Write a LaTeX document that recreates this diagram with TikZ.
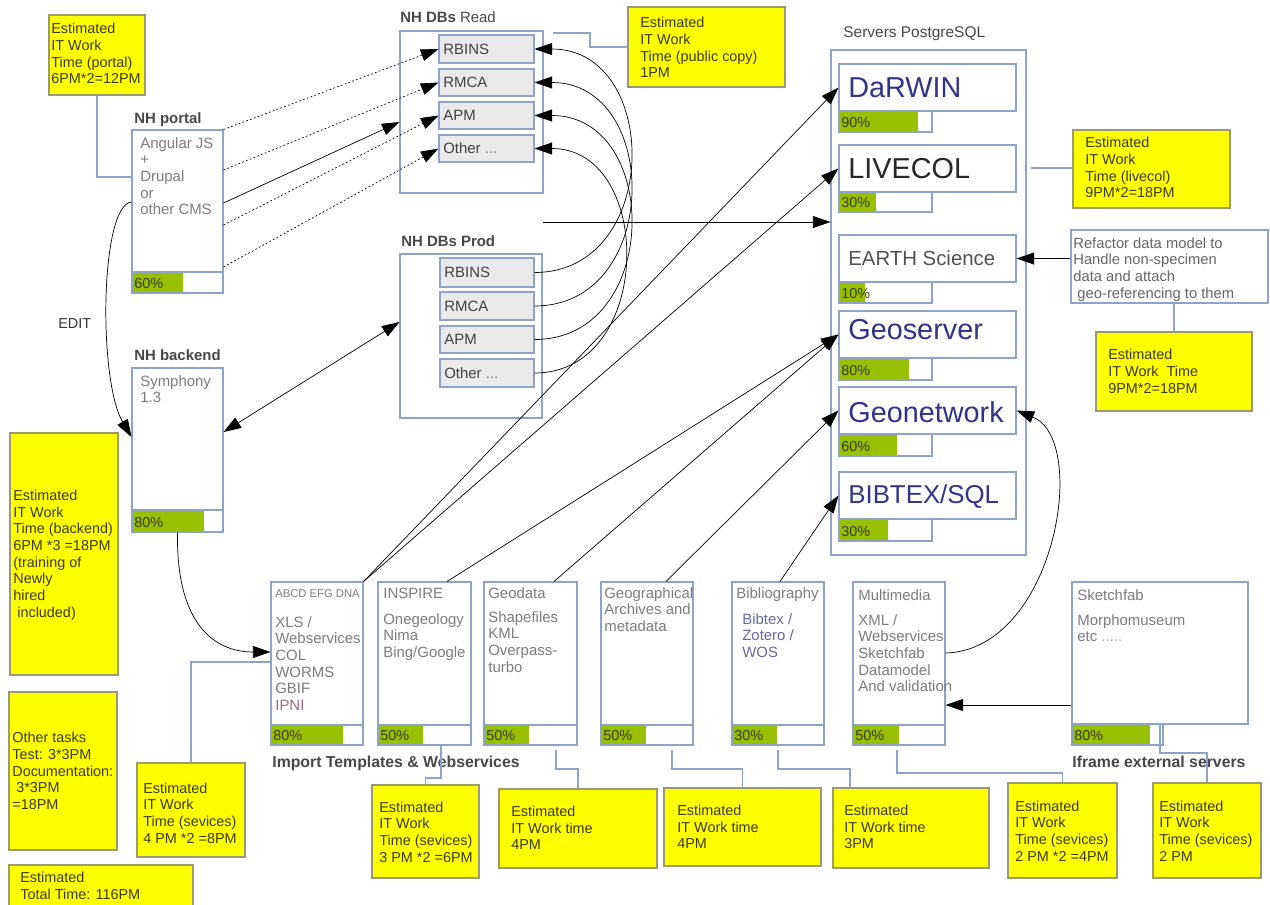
\documentclass[tikz,border=0pt]{standalone}
\usepackage{fontspec}
\setmainfont{Liberation Sans}
\usetikzlibrary{arrows.meta,fit}
\definecolor{bord}{HTML}{8FA3C8}
\definecolor{ybord}{HTML}{9A9A70}
\definecolor{ylw}{HTML}{FFFF00}
\definecolor{grn}{HTML}{99C000}
\definecolor{gtxt}{HTML}{7C7C7C}
\definecolor{btxt}{HTML}{333388}
\definecolor{dtxt}{HTML}{3A3A10}
\definecolor{dbfill}{HTML}{EAEAEA}
\definecolor{bibc}{HTML}{6666AA}
\definecolor{ipnic}{HTML}{9A6A7A}
\newcommand\pbar[7]{%
  \node[box, fit={(#2,#3) (#4,#5)}] (#1) {};
  \fill[grn] (#2,#3) rectangle (#6,#5);
  \draw[draw=bord, line width=0.6pt] (#2,#3) rectangle (#4,#5);
  \node[pct] (#1t) at ({#2+2},{#5-4.5}) {#7};}
\begin{document}
\begin{tikzpicture}[x=0.02cm, y=-0.02cm,
  box/.style={draw=bord, line width=0.6pt, fill=white, inner sep=0pt},
  ybox/.style={draw=ybord, line width=0.6pt, fill=ylw, inner sep=0pt},
  dbbox/.style={draw=bord, line width=0.6pt, fill=dbfill, inner sep=0pt},
  conn/.style={draw=bord, line width=0.6pt},
  arr/.style={draw=black, line width=0.4pt, -{Triangle[length=10pt,width=6.8pt]}},
  darr/.style={draw=black, line width=0.4pt, {Triangle[length=10pt,width=6.8pt]}-{Triangle[length=10pt,width=6.8pt]}},
  dotarr/.style={arr, dash pattern=on 1pt off 1.3pt},
  ytxt/.style={font=\fontsize{8.2}{9.5}\selectfont, text=dtxt, align=left, inner sep=0pt},
  gtx/.style={font=\fontsize{8.5}{9.5}\selectfont, text=gtxt, align=left, inner sep=0pt, anchor=north west},
  lbl/.style={font=\bfseries\fontsize{8.5}{10}\selectfont, text=black!72, inner sep=0pt, anchor=base west},
  pct/.style={font=\fontsize{8.2}{9}\selectfont, text=dtxt, inner sep=0pt, anchor=base west},
  srv/.style={font=\fontsize{16.4}{18}\selectfont, text=btxt, inner sep=0pt, anchor=base west},
  dbt/.style={font=\fontsize{8.5}{10}\selectfont, text=black!75, inner sep=0pt, anchor=west}]
\useasboundingbox (0,0) rectangle (1270,904);
\fill[white] (0,0) rectangle (1270,904);

% ---------- portal ----------
\node[ybox, fit={(49,15) (145,95)}] (portalY) {};
\node[ytxt, anchor=north west] (portalYt) at (51,23) {Estimated\\IT Work\\Time (portal)\\6PM*2=12PM};
\node[lbl] (portalL) at (134,123) {NH portal};
\node[box, fit={(132,130) (223,293)}] (portal) {};
\node[gtx] (portalT) at (140,137) {Angular JS\\+\\Drupal\\or\\other CMS};
\pbar{portalB}{132}{272}{223}{293}{183}{60\%}

% ---------- NH DBs Read ----------
\node[lbl] (readL) at (400,22) {NH DBs \mdseries Read};
\node[box, fit={(400,31) (543,193)}] (read) {};
\node[dbbox, fit={(439,35) (534,63)}] (rR1) {};
\node[dbbox, fit={(439,69) (534,96)}] (rR2) {};
\node[dbbox, fit={(439,102) (534,129)}] (rR3) {};
\node[dbbox, fit={(439,135) (534,162)}] (rR4) {};
\node[dbt] (rR1t) at (443,49) {RBINS};
\node[dbt] (rR2t) at (443,82.5) {RMCA};
\node[dbt] (rR3t) at (443,115.5) {APM};
\node[dbt] (rR4t) at (443,148.5) {Other \textcolor{gtxt}{...}};

\node[ybox, fit={(628,7) (785,87)}] (pubY) {};
\node[ytxt, anchor=north west] (pubYt) at (640,17) {Estimated\\IT Work\\Time (public copy)\\1PM};

% ---------- NH DBs Prod ----------
\node[lbl] (prodL) at (401,246) {NH DBs Prod};
\node[box, fit={(400,254) (542,418)}] (prod) {};
\node[dbbox, fit={(440,258) (534,287)}] (pR1) {};
\node[dbbox, fit={(440,292) (534,320)}] (pR2) {};
\node[dbbox, fit={(440,326) (534,353)}] (pR3) {};
\node[dbbox, fit={(440,359) (534,387)}] (pR4) {};
\node[dbt] (pR1t) at (444,272.5) {RBINS};
\node[dbt] (pR2t) at (444,306) {RMCA};
\node[dbt] (pR3t) at (444,339.5) {APM};
\node[dbt] (pR4t) at (444,373) {Other \textcolor{gtxt}{...}};

% ---------- backend ----------
\node[font=\fontsize{8.2}{9}\selectfont, text=black!80, inner sep=0pt, anchor=base west] (editL) at (58,328) {EDIT};
\node[lbl] (backL) at (134,360) {NH backend};
\node[box, fit={(132,368) (223,532)}] (backend) {};
\node[gtx] (backT) at (140,375) {Symphony\\1.3};
\pbar{backB}{132}{510}{223}{532}{204}{80\%}

\node[ybox, fit={(10,433) (118,675)}] (backY) {};
\node[ytxt, anchor=west] (backYt) at (13,555) {Estimated\\IT Work\\Time (backend)\\6PM *3 =18PM\\(training of\\Newly\\hired\\\ included)};
\node[ybox, fit={(9,692) (117,850)}] (otherY) {};
\node[ytxt, anchor=west] (otherYt) at (12,771) {Other tasks\\Test: 3*3PM\\Documentation:\\\ 3*3PM\\=18PM};
\node[ybox, fit={(137,763) (245,857)}] (abcdY) {};
\node[ytxt, anchor=west] (abcdYt) at (143,813) {Estimated\\IT Work\\Time (sevices)\\4 PM *2 =8PM};
\node[ybox, fit={(9,865) (193,925)}] (totalY) {};
\node[ytxt, anchor=north west] (totalYt) at (20,872) {Estimated\\Total Time: 116PM};

% ---------- servers ----------
\node[font=\fontsize{8.8}{10}\selectfont, text=black!72, inner sep=0pt, anchor=base west] (servL) at (843,37) {Servers PostgreSQL};
\node[box, fit={(831,50) (1026,555)}] (servers) {};
\node[box, fit={(839,64) (1016,111)}] (darwin) {};
\node[srv] (darwint) at (848,97) {DaRWIN};
\pbar{darwinB}{839}{111}{932}{132}{918}{90\%}
\node[box, fit={(839,145) (1016,192)}] (livecol) {};
\node[srv, text=black!85] (livecolt) at (848,178) {LIVECOL};
\pbar{livecolB}{839}{192}{932}{212}{876}{30\%}
\node[box, fit={(839,235) (1016,282)}] (earth) {};
\node[srv, text=black!68, font=\fontsize{11.6}{13}\selectfont] (eartht) at (848,265) {EARTH Science};
\pbar{earthB}{839}{282}{932}{303}{865}{10\%}
\node[box, fit={(839,311) (1016,358)}] (geoserver) {};
\node[srv] (geoservert) at (848,339) {Geoserver};
\pbar{geoserverB}{839}{358}{932}{380}{909}{80\%}
\node[box, fit={(839,387) (1016,434)}] (geonet) {};
\node[srv] (geonett) at (848,422) {Geonetwork};
\pbar{geonetB}{839}{434}{932}{456}{897}{60\%}
\node[box, fit={(839,472) (1016,519)}] (bibsql) {};
\node[srv, font=\fontsize{14.7}{16}\selectfont] (bibsqlt) at (848,503) {BIBTEX/SQL};
\pbar{bibsqlB}{839}{519}{932}{541}{888}{30\%}

\node[ybox, fit={(1073,130) (1230,208)}] (livY) {};
\node[ytxt, anchor=north west] (livYt) at (1085,137) {Estimated\\IT Work\\Time (livecol)\\9PM*2=18PM};
\node[box, fit={(1071,230) (1268,303)}] (refactor) {};
\node[gtx, font=\fontsize{8.4}{9.5}\selectfont, text=black!60] (refactort) at (1073,237) {Refactor data model to\\Handle non-specimen\\data and attach\\\ geo-referencing to them};
\node[ybox, fit={(1096,332) (1252,411)}] (earthY) {};
\node[ytxt, anchor=north west] (earthYt) at (1108,349) {Estimated\\IT Work\ \ Time\\9PM*2=18PM};

% ---------- bottom boxes ----------
\node[box, fit={(271,582) (363,745)}] (abcd) {};
\node[gtx, font=\fontsize{6.4}{8}\selectfont] (abcdT1) at (275,589) {ABCD EFG DNA};
\node[gtx] (abcdT2) at (275,616) {XLS /\\Webservices\\COL\\WORMS\\GBIF\\\textcolor{ipnic}{IPNI}};
\pbar{abcdB}{271}{725}{363}{745}{343}{80\%}

\node[box, fit={(378,582) (471,745)}] (inspire) {};
\node[gtx] (inspireT1) at (383,588) {INSPIRE};
\node[gtx] (inspireT2) at (383,613) {Onegeology\\Nima\\Bing/Google};
\pbar{inspireB}{378}{725}{471}{745}{423}{50\%}

\node[box, fit={(484,582) (577,745)}] (geodata) {};
\node[gtx] (geodataT1) at (488,587) {Geodata};
\node[gtx] (geodataT2) at (488,611) {Shapefiles\\KML\\Overpass-\\turbo};
\pbar{geodataB}{484}{725}{577}{745}{529}{50\%}

\node[box, fit={(601,582) (693,745)}] (geog) {};
\node[gtx] (geogT) at (604,587) {Geographical\\Archives and\\metadata};
\pbar{geogB}{601}{725}{693}{745}{646}{50\%}

\node[box, fit={(732,582) (824,745)}] (biblio) {};
\node[gtx] (biblioT1) at (736,587) {Bibliography};
\node[gtx, text=bibc] (biblioT2) at (742,613) {Bibtex /\\Zotero /\\WOS};
\pbar{biblioB}{732}{725}{824}{745}{777}{30\%}

\node[box, fit={(853,582) (945,745)}] (mm) {};
\node[gtx] (mmT1) at (858,589) {Multimedia};
\node[gtx] (mmT2) at (858,614) {XML /\\Webservices\\Sketchfab\\Datamodel\\And validation};
\pbar{mmB}{853}{725}{945}{745}{899}{50\%}

\node[box, fit={(1072,582) (1248,724)}] (sketch) {};
\node[gtx] (sketchT1) at (1077,589) {Sketchfab};
\node[gtx] (sketchT2) at (1077,614) {Morphomuseum\\etc \textcolor{gtxt!60}{.....}};
\pbar{sketchB}{1072}{724}{1163}{745}{1150}{80\%}

\node[lbl, font=\bfseries\fontsize{9}{10}\selectfont] (importL) at (272,767) {Import Templates \& Webservices};
\node[lbl, font=\bfseries\fontsize{9}{10}\selectfont] (iframeL) at (1072,767) {Iframe external servers};

\node[ybox, fit={(372,785) (479,878)}] (inspY) {};
\node[ytxt, anchor=west] (inspYt) at (379,832) {Estimated\\IT Work\\Time (sevices)\\3 PM *2 =6PM};
\node[ybox, fit={(499,789) (657,868)}] (gdY) {};
\node[ytxt, anchor=west] (gdYt) at (511,828) {Estimated\\IT Work time\\4PM};
\node[ybox, fit={(664,788) (821,866)}] (ggY) {};
\node[ytxt, anchor=west] (ggYt) at (677,827) {Estimated\\IT Work time\\4PM};
\node[ybox, fit={(833,788) (989,868)}] (bbY) {};
\node[ytxt, anchor=west] (bbYt) at (844,827) {Estimated\\IT Work time\\3PM};
\node[ybox, fit={(1008,783) (1117,878)}] (mmY) {};
\node[ytxt, anchor=west] (mmYt) at (1015,831) {Estimated\\IT Work\\Time (sevices)\\2 PM *2 =4PM};
\node[ybox, fit={(1153,783) (1261,878)}] (skY) {};
\node[ytxt, anchor=west] (skYt) at (1159,831) {Estimated\\IT Work\\Time (sevices)\\2 PM};

% ---------- yellow-note connectors ----------
\draw[conn] (portalY.south) |- (portal.west |- 0,177);
\coordinate (pubA) at (553,33);
\draw[conn] (pubA) -- (590,33) |- (pubY.west);
\coordinate (livA) at (1031,168);
\draw[conn] (livA) -- (livY.west |- livA);
\draw[conn] (refactor.south -| earthY.north) -- (earthY.north);
\draw[conn] (abcdY.north) |- (abcd.west |- 0,662);
\draw[conn] (inspire.south -| 441,0) -- (441,778) -- (inspY.north |- 0,778) -- (inspY.north);
\coordinate (gdA) at (556,750);
\draw[conn] (gdA) |- (gdY.north |- 0,769) -- (gdY.north);
\coordinate (ggA) at (672,750);
\draw[conn] (ggA) |- (ggY.north |- 0,769) -- (ggY.north);
\coordinate (bbA) at (778,750);
\draw[conn] (bbA) |- (850,769) -- (bbY.north -| 850,0);
\coordinate (mmA) at (897,750);
\draw[conn] (mmA) |- (mmY.north |- 0,773) -- (mmY.north);
\draw[conn] (sketch.south -| 1160,0) |- (skY.north |- 0,753) -- (skY.north);

% ---------- arrows ----------
\draw[dotarr] (portal.north east) -- (rR1.west);
\draw[dotarr] (portal.east |- 0,170) -- (rR2.west);
\draw[dotarr] (portal.east |- 0,225) -- (rR3.west);
\draw[dotarr] (portal.east |- 0,267) -- (rR4.west);
\draw[arr] (portal.east |- 0,203) -- (read.west |- 0,122);
\draw[arr] (portal.west |- 0,202) .. controls (100,205) and (98,380) .. (backend.west |- 0,437);
\draw[darr] (backend.east |- 0,432) -- (prod.west |- 0,322);
\draw[arr] (backend.south) .. controls (176,625) and (215,652) .. (abcd.west |- 0,652);

\draw[arr] (pR1.east) .. controls +(127,0) and +(127,0) .. (rR1.east);
\draw[arr] (pR2.east) .. controls +(127,0) and +(127,0) .. (rR2.east);
\draw[arr] (pR3.east) .. controls +(127,0) and +(127,0) .. (rR3.east);
\draw[arr] (pR4.east) .. controls +(120,0) and +(120,0) .. (rR4.east);

\coordinate (hA) at (543,222);
\draw[arr] (hA) -- (servers.west |- hA);

\draw[arr] (abcd.north east) -- (darwin.west);
\draw[arr] (abcd.north east) -- (livecol.west);
\draw[arr] (inspire.north -| 447,0) -- (geoserver.west);
\draw[arr] (geodata.north -| 554,0) -- (geoserver.west);
\draw[arr] (geog.north -| 666,0) -- (geonet.west);
\draw[arr] (biblio.north -| 780,0) -- (bibsql.west);

\draw[arr] (refactor.west |- earth.east) -- (earth.east);
\draw[arr] (mm.east |- 0,653) .. controls (1055,650) and (1090,440) .. (geonet.east);
\draw[arr] (sketch.west |- 0,705) -- (mm.east |- 0,705);
\end{tikzpicture}
\end{document}
